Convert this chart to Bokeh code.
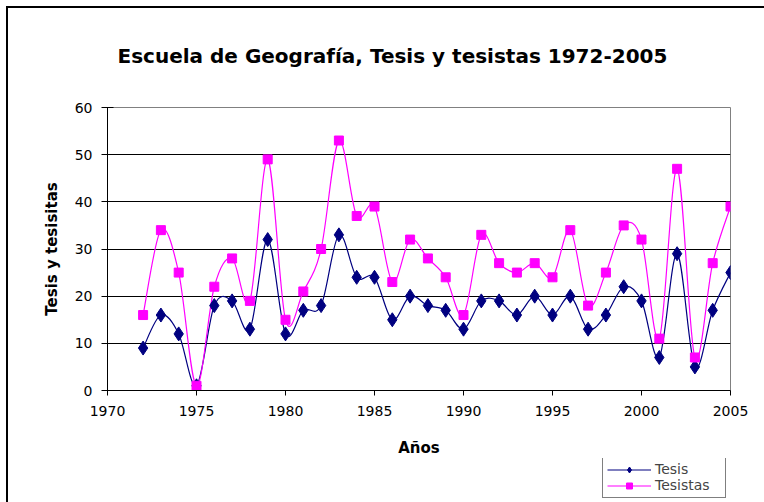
from bokeh.plotting import figure
from bokeh.layouts import column
from bokeh.models import (Legend, LegendItem, Title, FixedTicker, Range1d)
from bokeh.embed import file_html
from bokeh.resources import INLINE

years = list(range(1972, 2006))
tesis = [9, 16, 12, 1, 18, 19, 13, 32, 12, 17, 18, 33, 24, 24, 15, 20, 18, 17,
         13, 19, 19, 16, 20, 16, 20, 13, 16, 22, 19, 7, 29, 5, 17, 25]
tesistas = [16, 34, 25, 1, 22, 28, 19, 49, 15, 21, 30, 53, 37, 39, 23, 32, 28, 24,
            16, 33, 27, 25, 27, 24, 34, 18, 25, 35, 32, 11, 47, 7, 27, 39]
x_ticks = [1970, 1975, 1980, 1985, 1990, 1995, 2000, 2005]
y_ticks = [0, 10, 20, 30, 40, 50, 60]

title_text = "Escuela de Geografía, Tesis y tesistas 1972-2005"
x_label = "Años"
y_label = "Tesis y tesisitas"

FONT = "DejaVu Sans"
NAVY = "#000080"
MAGENTA = "#FF00FF"

p = figure(width=764, height=502, output_backend="svg", toolbar_location=None,
           x_range=Range1d(1970, 2005), y_range=Range1d(0, 60),
           min_border_left=107, min_border_right=34, min_border_top=107,
           min_border_bottom=112, title=None)
p.styles = {"background": "linear-gradient(black, black) 6px 6px / 2px 100% no-repeat, "
                          "linear-gradient(black, black) 6px 6px / 100% 2px no-repeat"}
p.outline_line_color = "#808080"
p.outline_line_width = 1
p.background_fill_color = "white"
p.border_fill_alpha = 0

p.xgrid.grid_line_color = None
p.ygrid.grid_line_color = "black"
p.ygrid.grid_line_width = 1
p.ygrid.ticker = FixedTicker(ticks=y_ticks)

p.xaxis.ticker = FixedTicker(ticks=x_ticks)
p.yaxis.ticker = FixedTicker(ticks=y_ticks)
for ax in (p.xaxis[0], p.yaxis[0]):
    ax.axis_line_color = "black"
    ax.major_tick_line_color = "black"
    ax.minor_tick_line_color = None
    ax.major_label_text_font = FONT
    ax.major_label_text_font_size = "14px"
    ax.major_label_text_color = "black"
    ax.axis_label_text_font = FONT
    ax.axis_label_text_font_style = "bold"
    ax.axis_label_text_font_size = "15px"
    ax.axis_label_text_color = "black"
p.yaxis.major_tick_in = 6
p.yaxis.major_tick_out = 6
p.xaxis.major_tick_in = 0
p.xaxis.major_tick_out = 5
p.xaxis.major_label_standoff = 10
p.yaxis.major_label_standoff = 9
p.xaxis.axis_label = x_label
p.yaxis.axis_label = y_label
p.xaxis.axis_label_standoff = 20
p.yaxis.axis_label_standoff = 11


def smooth(xs, ys):
    n = len(xs)
    x0, y0, x1, y1, cx0, cy0, cx1, cy1 = [], [], [], [], [], [], [], []
    for i in range(n - 1):
        pa = max(i - 1, 0)
        pb = min(i + 2, n - 1)
        x0.append(xs[i]); y0.append(ys[i])
        x1.append(xs[i + 1]); y1.append(ys[i + 1])
        cx0.append(xs[i] + (xs[i + 1] - xs[pa]) / 6)
        cy0.append(ys[i] + (ys[i + 1] - ys[pa]) / 6)
        cx1.append(xs[i + 1] - (xs[pb] - xs[i]) / 6)
        cy1.append(ys[i + 1] - (ys[pb] - ys[i]) / 6)
    return dict(x0=x0, y0=y0, x1=x1, y1=y1, cx0=cx0, cy0=cy0, cx1=cx1, cy1=cy1)


p.bezier(**smooth(years, tesis), line_color=NAVY, line_width=1.2)
p.bezier(**smooth(years, tesistas), line_color=MAGENTA, line_width=1.2)
p.scatter(years, tesis, marker="diamond", size=14, fill_color=NAVY,
          line_color=NAVY)
p.scatter(years, tesistas, marker="square", size=9, fill_color=MAGENTA,
          line_color=MAGENTA)

title = Title(text=title_text, align="left", offset=10, standoff=79,
              text_font=FONT, text_font_style="bold", text_font_size="20px",
              text_color="black")
p.add_layout(title, "above")

# transparent strip figure holding the legend, overlapping the bottom of the chart
lf = figure(width=798, height=44, output_backend="svg", toolbar_location=None,
            x_axis_type=None, y_axis_type=None,
            x_range=Range1d(1970, 2005), y_range=Range1d(0, 60),
            min_border=0, margin=(-44, -34, 0, 0))
lf.outline_line_color = None
lf.xgrid.grid_line_color = None
lf.ygrid.grid_line_color = None
lf.border_fill_alpha = 0
lf.background_fill_alpha = 0
lr1 = lf.line(years, tesis, line_color=NAVY, line_width=1.2, visible=False)
lm1 = lf.scatter(years, tesis, marker="diamond", size=11, fill_color=NAVY,
                 line_color=NAVY, visible=False)
lr2 = lf.line(years, tesistas, line_color=MAGENTA, line_width=1.2, visible=False)
lm2 = lf.scatter(years, tesistas, marker="square", size=9, fill_color=MAGENTA,
                 line_color=MAGENTA, visible=False)
legend = Legend(items=[LegendItem(label="Tesis", renderers=[lr1, lm1]),
                       LegendItem(label="Tesistas", renderers=[lr2, lm2])],
                location="bottom_right", orientation="vertical",
                border_line_color="black", border_line_width=1,
                background_fill_color="white", background_fill_alpha=1,
                inactive_fill_alpha=0,
                padding=4, spacing=0, margin=4,
                glyph_width=44, glyph_height=15, label_standoff=4,
                label_width=66,
                label_text_font=FONT, label_text_font_size="14px",
                label_height=15, label_text_line_height=1.0)
lf.add_layout(legend, "center")

layout = column(p, lf, spacing=0, width=764, height=502,
                styles={"overflow": "hidden"})
open("out.html", "w").write(file_html(layout, INLINE))
